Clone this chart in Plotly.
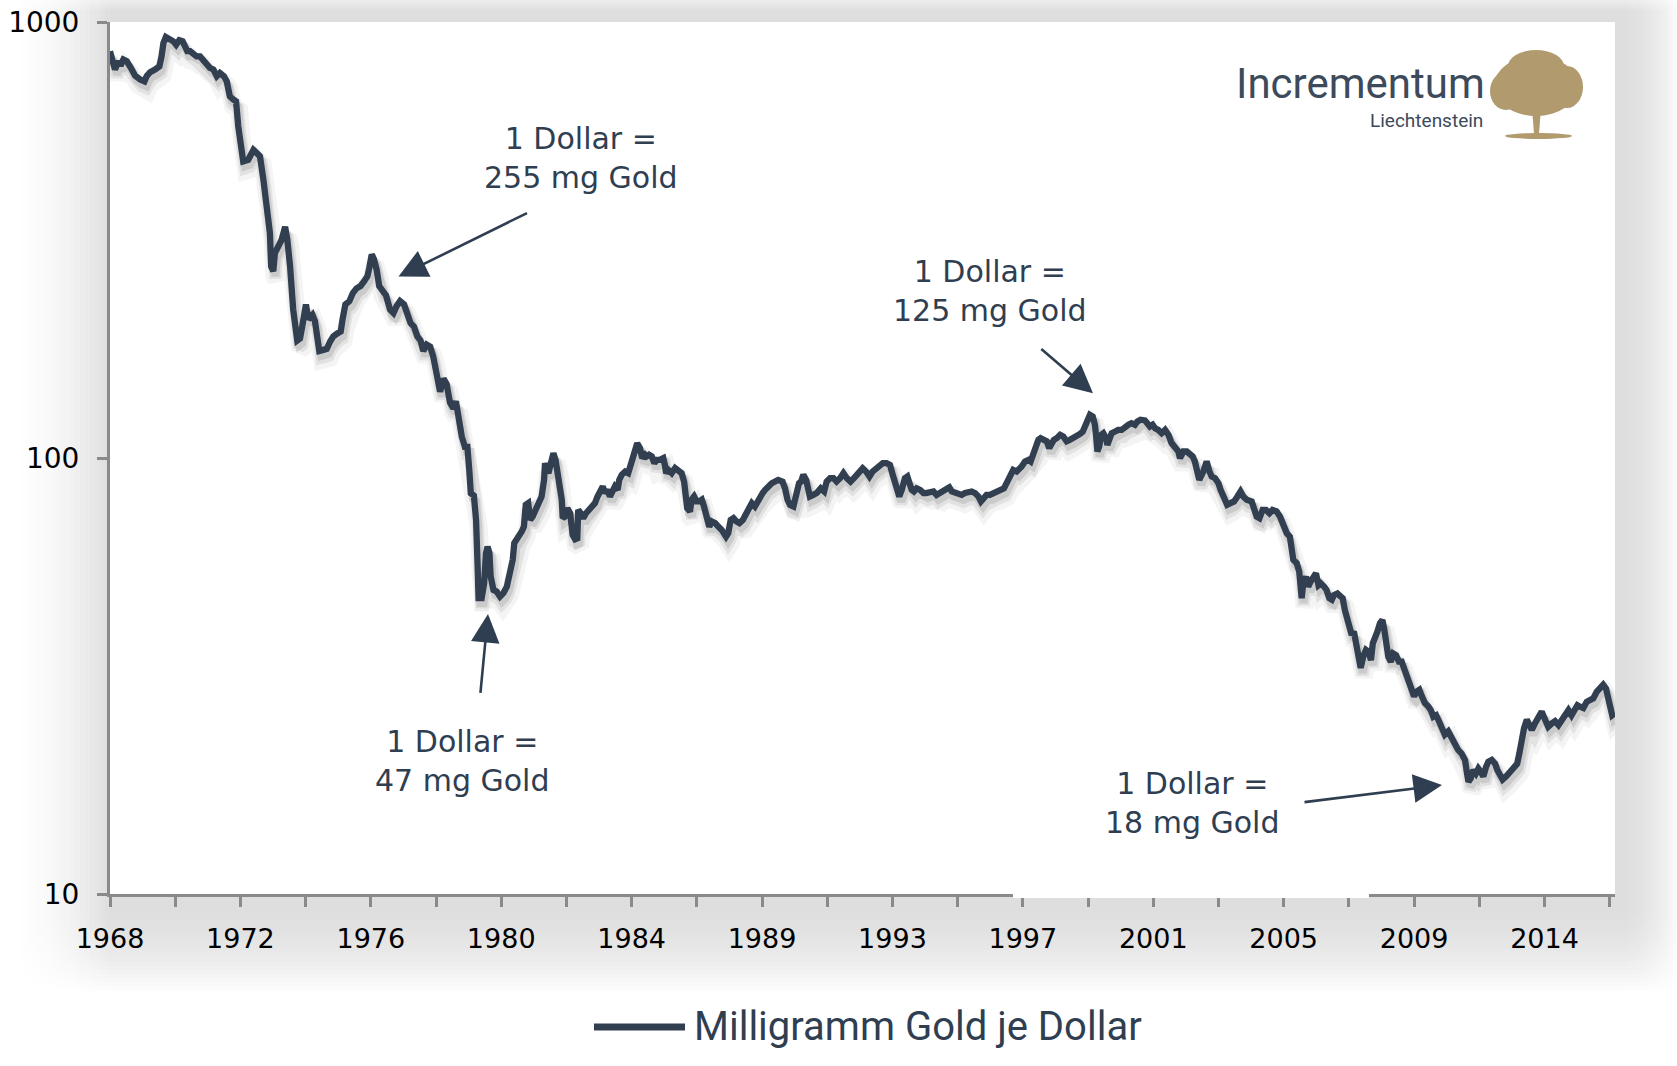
import numpy as np
import plotly.graph_objects as go

# ---------------- data ----------------
YEARS_A = [1968.00, 1968.16, 1968.27, 1968.34, 1968.43, 1968.54, 1968.67, 1968.81, 1968.97, 1969.11,
           1969.18, 1969.29, 1969.45, 1969.59, 1969.66, 1969.72, 1969.80, 1969.93, 1970.04, 1970.13,
           1970.23, 1970.34, 1970.42, 1970.49, 1970.58, 1970.68, 1970.79, 1970.90, 1971.01, 1971.11,
           1971.22, 1971.33, 1971.44, 1971.54, 1971.67, 1971.76, 1971.86, 1971.97, 1972.06, 1972.13,
           1972.19, 1972.29, 1972.45, 1972.62, 1972.72, 1972.83, 1972.94, 1973.02, 1973.10, 1973.15,
           1973.19, 1973.26, 1973.31, 1973.42, 1973.53, 1973.64, 1973.71, 1973.80, 1973.90, 1974.03,
           1974.12, 1974.20, 1974.31, 1974.39, 1974.52, 1974.60, 1974.66, 1974.74, 1974.87, 1974.98,
           1975.09, 1975.19, 1975.32, 1975.43, 1975.49, 1975.58, 1975.71, 1975.82, 1975.94, 1976.07,
           1976.18, 1976.29, 1976.35, 1976.43, 1976.50, 1976.59, 1976.67, 1976.78, 1976.89, 1977.02,
           1977.13, 1977.23, 1977.34, 1977.47, 1977.58, 1977.68, 1977.79, 1977.90, 1978.00, 1978.09,
           1978.20, 1978.31, 1978.41, 1978.52, 1978.63, 1978.74, 1978.84, 1978.95, 1979.06, 1979.14]
MG_A = [857, 778, 813, 794, 820, 813, 785, 753, 738, 731,
        751, 767, 778, 791, 834, 895, 924, 914, 903, 887,
        908, 903, 880, 857, 857, 849, 834, 834, 813, 805,
        785, 778, 751, 764, 751, 731, 675, 664, 658, 577,
        528, 479, 483, 509, 501, 492, 435, 378, 358, 328,
        275, 268, 295, 306, 317, 339, 317, 275, 219, 186,
        188, 202, 225, 208, 213, 206, 188, 176, 177, 178,
        185, 190, 193, 195, 208, 225, 229, 239, 245, 248,
        254, 261, 273, 293, 286, 270, 248, 241, 236, 219,
        215, 223, 229, 225, 215, 204, 200, 190, 186, 176,
        182, 180, 171, 157, 142, 152, 148, 134, 130, 135]

YEARS_B = [1979.25, 1979.33, 1979.43, 1979.51, 1979.57, 1979.62, 1979.72, 1979.79, 1979.84, 1979.87,
           1979.97, 1980.05, 1980.11, 1980.16, 1980.22, 1980.26, 1980.35, 1980.45, 1980.56, 1980.67,
           1980.78, 1980.88, 1980.97, 1981.02, 1981.15, 1981.26, 1981.33, 1981.39, 1981.47, 1981.53,
           1981.61, 1981.69, 1981.79, 1981.90, 1981.98, 1982.01, 1982.12, 1982.19, 1982.28, 1982.35,
           1982.44, 1982.55, 1982.58, 1982.65, 1982.73, 1982.82, 1982.90, 1982.98, 1983.05, 1983.08,
           1983.16, 1983.24, 1983.33, 1983.41, 1983.51, 1983.62, 1983.70, 1983.78, 1983.87, 1983.94,
           1984.02, 1984.10, 1984.18, 1984.26, 1984.35, 1984.40, 1984.48, 1984.59, 1984.69, 1984.75,
           1984.83, 1984.91, 1984.98, 1985.07, 1985.14, 1985.23, 1985.28, 1985.36, 1985.45, 1985.53,
           1985.61, 1985.71, 1985.82, 1985.87, 1985.91, 1985.98, 1986.09, 1986.20, 1986.30, 1986.41,
           1986.49, 1986.55, 1986.59, 1986.68, 1986.73, 1986.81, 1986.89, 1986.98, 1987.06, 1987.13,
           1987.22, 1987.30, 1987.38, 1987.49, 1987.59, 1987.70, 1987.84, 1987.91, 1987.99, 1988.08,
           1988.18, 1988.27, 1988.38, 1988.45, 1988.56, 1988.67, 1988.77, 1988.85, 1988.93, 1989.02,
           1989.10, 1989.20, 1989.31, 1989.42, 1989.52]
MG_B = [120, 112, 106, 106, 94, 83, 82, 72, 56.4, 47.7,
        47.7, 51.6, 60.5, 62.6, 60.5, 53.5, 49.8, 49.4, 48.1, 49.0,
        50.7, 54.4, 58.4, 63.8, 65.5, 67.8, 69.6, 78.1, 78.8, 72.1,
        73.4, 76.0, 78.1, 81.6, 89.1, 97.3, 92.3, 97.3, 102.6, 99.0,
        89.1, 80.2, 72.8, 73.4, 76.7, 74.7, 66.6, 65.1, 65.4, 76.0,
        74.7, 72.8, 74.7, 76.0, 77.4, 78.8, 81.6, 83.8, 86.0, 83.1,
        84.5, 81.6, 83.8, 86.0, 84.5, 89.1, 91.5, 93.1, 92.3, 95.6,
        100.8, 106.3, 108.1, 105.3, 99.9, 101.7, 100.8, 101.7, 100.8, 97.3,
        99.0, 99.0, 99.9, 96.4, 92.3, 93.9, 92.3, 94.8, 93.9, 92.3,
        88.3, 81.6, 76.7, 75.4, 80.2, 81.6, 79.5, 79.5, 80.2, 77.4,
        72.1, 69.6, 71.5, 70.9, 69.6, 68.4, 66.0, 67.2, 72.1, 72.8,
        71.5, 70.9, 72.1, 73.4, 76.0, 78.8, 77.4, 79.5, 81.6, 83.1,
        84.5, 86.0, 87.5, 88.3, 89.1]

YEARS_C = [1989.66, 1989.74, 1989.82, 1989.90, 1990.01, 1990.12, 1990.19, 1990.26, 1990.33, 1990.42,
           1990.49, 1990.54, 1990.65, 1990.76, 1990.89, 1991.00, 1991.08, 1991.19, 1991.30, 1991.40,
           1991.51, 1991.62, 1991.73, 1991.85, 1991.96, 1992.07, 1992.15, 1992.24, 1992.35, 1992.46,
           1992.56, 1992.67, 1992.78, 1992.89, 1993.01, 1993.12, 1993.21, 1993.28, 1993.37, 1993.42,
           1993.50, 1993.60, 1993.68, 1993.74, 1993.82, 1993.89, 1993.98, 1994.09, 1994.20, 1994.28,
           1994.41, 1994.52, 1994.62, 1994.71, 1994.82, 1994.93, 1995.03, 1995.11, 1995.21, 1995.32,
           1995.43, 1995.54, 1995.64, 1995.75, 1995.86, 1995.97, 1996.05, 1996.13, 1996.23, 1996.34,
           1996.45, 1996.58, 1996.69, 1996.79, 1996.90, 1996.99, 1997.09, 1997.20, 1997.29, 1997.36,
           1997.47, 1997.58, 1997.65, 1997.72, 1997.82, 1997.90, 1997.97, 1998.06, 1998.17, 1998.25,
           1998.33, 1998.40, 1998.49, 1998.60, 1998.70, 1998.81, 1998.92, 1999.03, 1999.13, 1999.24,
           1999.33, 1999.40, 1999.48, 1999.56, 1999.65, 1999.72, 1999.76, 1999.80, 1999.86, 1999.92,
           1999.99, 2000.08, 2000.12, 2000.19, 2000.26, 2000.37, 2000.47, 2000.58, 2000.69, 2000.80,
           2000.90, 2001.01, 2001.09, 2001.19, 2001.33, 2001.41, 2001.49, 2001.58, 2001.66, 2001.76,
           2001.87, 2001.98, 2002.09, 2002.19, 2002.30, 2002.41, 2002.46, 2002.57, 2002.68, 2002.78,
           2002.87, 2002.94, 2003.02, 2003.08]
MG_C = [88.3, 85.2, 80.2, 78.1, 77.4, 83.1, 87.5, 88.3, 91.5, 89.1,
        84.5, 81.6, 82.3, 83.1, 85.2, 83.8, 88.3, 89.9, 89.9, 88.3,
        89.9, 92.3, 89.9, 88.3, 89.9, 91.5, 93.1, 94.7, 93.1, 90.7,
        93.1, 94.7, 96.4, 97.3, 97.3, 96.4, 91.5, 87.5, 83.8, 81.6,
        84.5, 89.9, 90.7, 86.7, 84.5, 83.8, 85.2, 84.5, 83.1, 83.1,
        83.8, 83.8, 82.3, 83.1, 84.5, 85.2, 85.7, 83.8, 83.1, 82.3,
        82.3, 83.1, 83.8, 83.8, 83.1, 81.6, 79.5, 80.9, 82.3, 82.3,
        83.1, 83.8, 84.5, 85.2, 88.3, 90.7, 93.9, 93.1, 94.2, 95.6,
        98.2, 99.0, 98.2, 101.7, 104.4, 110.1, 111.0, 110.1, 109.2, 105.4,
        109.2, 110.1, 111.0, 113.0, 112.0, 109.2, 110.1, 111.0, 112.0, 113.6,
        115.0, 118.1, 122.4, 125.6, 124.5, 119.2, 112.0, 103.5, 106.3, 113.0,
        114.0, 111.0, 107.2, 110.1, 114.0, 115.0, 116.0, 116.0, 118.1, 119.2,
        120.2, 119.2, 121.3, 122.4, 122.0, 120.2, 118.1, 119.2, 117.0, 116.0,
        114.0, 116.0, 113.0, 108.2, 105.4, 103.5, 99.9, 103.5, 103.5, 101.7,
        100.8, 98.2, 90.7, 89.1]

YEARS_D = [2003.21, 2003.32, 2003.41, 2003.48, 2003.59, 2003.70, 2003.77, 2003.88, 2003.98, 2004.09,
           2004.20, 2004.31, 2004.41, 2004.50, 2004.61, 2004.77, 2004.84, 2004.93, 2005.02, 2005.12,
           2005.23, 2005.34, 2005.44, 2005.57, 2005.68, 2005.79, 2005.90, 2006.00, 2006.06, 2006.11,
           2006.22, 2006.30, 2006.38, 2006.43, 2006.52, 2006.59, 2006.67, 2006.75, 2006.84, 2006.92,
           2006.99, 2007.10, 2007.18, 2007.27, 2007.35, 2007.42, 2007.53, 2007.64, 2007.70, 2007.77,
           2007.83, 2007.91, 2007.99, 2008.06, 2008.13, 2008.17, 2008.24, 2008.28, 2008.36, 2008.45,
           2008.54, 2008.61, 2008.67, 2008.74, 2008.82, 2008.90, 2008.98, 2009.04, 2009.09, 2009.17,
           2009.25, 2009.33, 2009.42, 2009.51, 2009.60, 2009.67, 2009.76, 2009.85, 2009.92, 2010.00,
           2010.08, 2010.17, 2010.25, 2010.35, 2010.46, 2010.54, 2010.62, 2010.71, 2010.78, 2010.89,
           2010.99, 2011.10, 2011.21, 2011.32, 2011.42, 2011.53, 2011.64, 2011.69]
MG_D = [93.1, 98.2, 93.1, 90.7, 89.9, 87.5, 84.5, 81.6, 78.1, 78.8,
        79.5, 81.6, 83.8, 81.6, 80.2, 79.5, 76.0, 73.4, 72.8, 76.0,
        76.0, 74.7, 76.0, 75.4, 73.4, 69.7, 67.2, 66.0, 61.5, 58.4,
        57.4, 54.9, 47.7, 51.6, 53.4, 50.7, 52.1, 53.4, 54.4, 51.1,
        51.6, 50.7, 49.8, 47.7, 47.3, 48.5, 48.9, 48.1, 47.7, 44.8,
        43.3, 41.1, 39.3, 40.0, 37.6, 35.6, 33.8, 33.0, 35.0, 36.3,
        35.9, 34.4, 37.6, 39.3, 40.0, 41.8, 42.5, 40.4, 37.6, 35.0,
        34.1, 35.6, 35.3, 34.1, 34.1, 33.0, 31.8, 30.5, 28.9, 28.4,
        29.1, 29.4, 28.4, 27.4, 26.9, 26.4, 25.5, 25.7, 25.1, 23.8,
        23.2, 23.6, 22.8, 21.9, 21.4, 21.0, 20.3, 19.2]

YEARS_E = [2011.75, 2011.82, 2011.91, 2011.99, 2012.07, 2012.14, 2012.23, 2012.32, 2012.39, 2012.50,
           2012.61, 2012.68, 2012.77, 2012.85, 2012.96, 2013.09, 2013.22, 2013.32, 2013.39, 2013.46,
           2013.54, 2013.63, 2013.71, 2013.79, 2013.89, 2014.00, 2014.11, 2014.22, 2014.32, 2014.43,
           2014.54, 2014.65, 2014.75, 2014.86, 2014.97, 2015.07, 2015.18, 2015.26, 2015.34, 2015.45,
           2015.56, 2015.67, 2015.77, 2015.88, 2015.99, 2016.09, 2016.18, 2016.26, 2016.31, 2016.38,
           2016.47]
MG_E = [18.1, 18.4, 19.25, 18.9, 19.4, 19.1, 18.6, 19.6, 20.1, 20.3,
        19.9, 19.25, 18.6, 18.3, 18.6, 19.1, 19.4, 19.9, 21.0, 22.6,
        24.0, 25.1, 24.2, 23.8, 24.6, 25.5, 26.2, 25.1, 24.2, 24.6,
        24.9, 24.4, 25.1, 25.5, 26.4, 25.7, 26.7, 27.1, 26.9, 26.7,
        27.6, 27.9, 28.1, 29.1, 29.6, 30.2, 29.6, 27.9, 26.9, 25.7,
        26.0]

SERIES_NAME = "Milligramm Gold je Dollar"
X_TICK_LABELS = ["1968", "1972", "1976", "1980", "1984", "1989",
                 "1993", "1997", "2001", "2005", "2009", "2014"]
Y_TICKS = [10, 100, 1000]

ANNOT_TEXTS = ["1 Dollar =<br>255 mg Gold", "1 Dollar =<br>47 mg Gold",
               "1 Dollar =<br>125 mg Gold", "1 Dollar =<br>18 mg Gold"]

years = np.array(YEARS_A + YEARS_B + YEARS_C + YEARS_D + YEARS_E)
mg = np.array(MG_A + MG_B + MG_C + MG_D + MG_E, dtype=float)

# ---------------- layout geometry ----------------
W, H = 1677, 1066
PL, PR, PT, PB = 110, 1615, 22, 894
X0 = 1968.0
PX_PER_YEAR = 31.05
X1 = X0 + (PR - PL) / PX_PER_YEAR
PX_PER_DEC = (PB - PT) / 2.0
TICK_STEP = 2.1  # years between x ticks (labels on every second tick)

LINE_COL = "#313f50"
TXT_COL = "#2f3e50"
AX_COL = "#8a8a8a"
GOLD = "#b09a6e"


def pxx(px):
    return (px - PL) / (PR - PL)


def pxy(py):
    return (PB - py) / (PB - PT)


def yr(px):
    return X0 + (px - PL) / PX_PER_YEAR


def lg(py):
    return 1 + (PB - py) / PX_PER_DEC


fig = go.Figure()

# soft drop shadow of the line
for dx, dy, w, a in [(3, 9, 18, 0.045), (2, 7, 12, 0.07), (2, 5, 8, 0.10)]:
    fig.add_trace(go.Scatter(
        x=years + dx / PX_PER_YEAR, y=mg * 10 ** (-dy / PX_PER_DEC),
        mode="lines", line=dict(color=f"rgba(0,0,0,{a})", width=w),
        hoverinfo="skip", showlegend=False))

fig.add_trace(go.Scatter(x=years, y=mg, mode="lines", name=SERIES_NAME,
                         line=dict(color=LINE_COL, width=6.3), showlegend=False))

tickvals = [X0 + TICK_STEP * k for k in range(24)]
ticktext = []
for k in range(24):
    ticktext.append(X_TICK_LABELS[k // 2] if k % 2 == 0 and k // 2 < len(X_TICK_LABELS) else "")

shapes = []
# background: gray frame with white fades (drop-shadow look)
for i in range(22):
    x0, x1 = 5 * i, 5 * (i + 1)
    a = 1 - ((x0 + 2.5) / 110.0) ** 2
    shapes.append(dict(type="rect", xref="paper", yref="paper", layer="below",
                       x0=pxx(x0 - (20 if i == 0 else 0)), x1=pxx(x1), y0=pxy(H + 20), y1=pxy(-20),
                       fillcolor=f"rgba(255,255,255,{a:.3f})", line=dict(width=0)))
for i in range(31):
    x0, x1 = PR + 2 * i, PR + 2 * (i + 1)
    a = 0.85 * ((2 * i + 1) / 62.0) ** 2
    shapes.append(dict(type="rect", xref="paper", yref="paper", layer="below",
                       x0=pxx(x0), x1=pxx(x1 + (20 if i == 30 else 0)), y0=pxy(H + 20), y1=pxy(-20),
                       fillcolor=f"rgba(255,255,255,{a:.3f})", line=dict(width=0)))
for i in range(25):
    y0, y1 = PB + 4 * i, PB + 4 * (i + 1)
    a = min(1.0, ((4 * i + 2) / 100.0) ** 2)
    shapes.append(dict(type="rect", xref="paper", yref="paper", layer="below",
                       x0=pxx(-20), x1=pxx(W + 20), y0=pxy(y1), y1=pxy(y0),
                       fillcolor=f"rgba(255,255,255,{a:.3f})", line=dict(width=0)))
shapes.append(dict(type="rect", xref="paper", yref="paper", layer="below",
                   x0=pxx(-20), x1=pxx(W + 20), y0=pxy(H + 20), y1=pxy(PB + 100),
                   fillcolor="white", line=dict(width=0)))
for i in range(6):
    y0, y1 = 2 * i, 2 * (i + 1)
    a = 0.45 * (1 - (2 * i + 1) / 12.0)
    shapes.append(dict(type="rect", xref="paper", yref="paper", layer="below",
                       x0=pxx(-20), x1=pxx(W + 20), y0=pxy(y1), y1=pxy(y0 - (20 if i == 0 else 0)),
                       fillcolor=f"rgba(255,255,255,{a:.3f})", line=dict(width=0)))

# gap in the x axis line (as in the source image)
shapes.append(dict(type="rect", xref="paper", yref="paper", layer="above",
                   x0=pxx(1013), x1=pxx(1369), y0=pxy(898), y1=pxy(891),
                   fillcolor="white", line=dict(width=0)))

# manual legend line
shapes.append(dict(type="line", xref="paper", yref="paper",
                   x0=pxx(594), x1=pxx(685), y0=pxy(1027), y1=pxy(1027),
                   line=dict(color=LINE_COL, width=7)))

# logo tree
shapes += [
    dict(type="path", xref="paper", yref="paper",
         path=f"M {pxx(1532)},{pxy(108)} L {pxx(1541)},{pxy(108)} L {pxx(1539)},{pxy(134)} L {pxx(1534)},{pxy(134)} Z",
         fillcolor=GOLD, line=dict(width=0)),
    dict(type="circle", xref="paper", yref="paper",
         x0=pxx(1505), x1=pxx(1572), y0=pxy(139), y1=pxy(133), fillcolor=GOLD, line=dict(width=0)),
    dict(type="circle", xref="paper", yref="paper",
         x0=pxx(1494), x1=pxx(1578), y0=pxy(116), y1=pxy(56), fillcolor=GOLD, line=dict(width=0)),
    dict(type="circle", xref="paper", yref="paper",
         x0=pxx(1490), x1=pxx(1522), y0=pxy(110), y1=pxy(72), fillcolor=GOLD, line=dict(width=0)),
    dict(type="circle", xref="paper", yref="paper",
         x0=pxx(1551), x1=pxx(1583), y0=pxy(108), y1=pxy(66), fillcolor=GOLD, line=dict(width=0)),
    dict(type="circle", xref="paper", yref="paper",
         x0=pxx(1508), x1=pxx(1564), y0=pxy(82), y1=pxy(50), fillcolor=GOLD, line=dict(width=0)),
]

annotations = []
TEXT_POS = [(581, 158), (462, 761), (990, 291), (1192, 803)]
for (px, py), t in zip(TEXT_POS, ANNOT_TEXTS):
    annotations.append(dict(x=yr(px), y=lg(py), xref="x", yref="y", text=t, showarrow=False,
                            font=dict(family="DejaVu Sans", size=30, color=TXT_COL),
                            align="center", xanchor="center", yanchor="middle"))
ARROWS = [((398.5, 276.5), (528.5, 212.3)), ((488, 614), (480.3, 694.3)),
          ((1093, 393.3), (1039.8, 347.7)), ((1442, 785), (1303, 802.3))]
for (hx, hy), (tx, ty) in ARROWS:
    annotations.append(dict(x=yr(hx), y=lg(hy), xref="x", yref="y", ax=yr(tx), ay=lg(ty),
                            axref="x", ayref="y", text="", showarrow=True, arrowhead=2,
                            arrowsize=2.2, arrowwidth=2.6, arrowcolor=TXT_COL, standoff=0))

# legend text
annotations.append(dict(x=pxx(692), y=pxy(1026), xref="paper", yref="paper", text=SERIES_NAME,
                        showarrow=False, xanchor="left", yanchor="middle",
                        font=dict(family="Roboto", size=40, color=TXT_COL)))
# logo text
annotations.append(dict(x=pxx(1487), y=pxy(83), xref="paper", yref="paper", text="Incrementum",
                        showarrow=False, xanchor="right", yanchor="middle", height=40,
                        font=dict(family="Roboto", size=42, color="#3d4a5c")))
annotations.append(dict(x=pxx(1485), y=pxy(120), xref="paper", yref="paper", text="Liechtenstein",
                        showarrow=False, xanchor="right", yanchor="middle",
                        font=dict(family="Roboto", size=19, color="#3d4a5c")))

fig.update_layout(
    width=W, height=H,
    margin=dict(l=PL, r=W - PR, t=PT, b=H - PB, pad=0, autoexpand=False),
    paper_bgcolor="#dedede", plot_bgcolor="white",
    showlegend=False,
    shapes=shapes, annotations=annotations,
    xaxis=dict(range=[X0, X1], tickmode="array", tickvals=tickvals, ticktext=ticktext,
               showgrid=False, zeroline=False, showline=True, linecolor=AX_COL, linewidth=3,
               ticks="outside", ticklen=10, tickwidth=3, tickcolor=AX_COL, automargin=False,
               tickfont=dict(family="DejaVu Sans", size=27, color="#000000"),
               ticklabelstandoff=9, fixedrange=True),
    yaxis=dict(type="log", range=[1, 3], tickmode="array", tickvals=Y_TICKS,
               ticktext=[str(v) for v in Y_TICKS],
               showgrid=False, zeroline=False, showline=True, linecolor=AX_COL, linewidth=3,
               ticks="outside", ticklen=10, tickwidth=3, tickcolor=AX_COL, automargin=False,
               tickfont=dict(family="DejaVu Sans", size=28, color="#000000"),
               ticklabelstandoff=12, fixedrange=True),
)

fig.write_html("out.html", config={"displayModeBar": False},
               post_script="document.body.style.margin='0';")
